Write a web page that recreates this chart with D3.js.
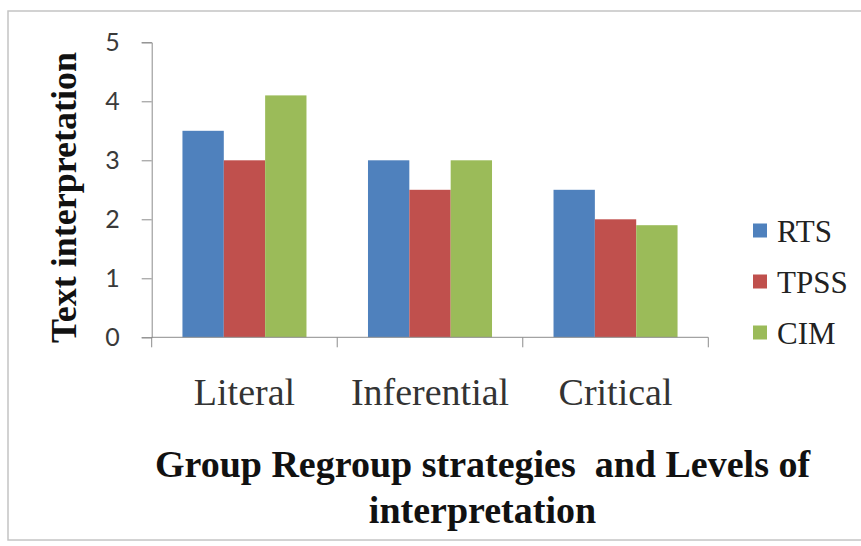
<!DOCTYPE html>
<html><head><meta charset="utf-8">
<script src="https://cdn.jsdelivr.net/npm/d3@7"></script>
<style>html,body{margin:0;padding:0;background:#fff;}svg{display:block;}
.serif{font-family:"Liberation Serif","Times New Roman",serif;}
.tick text{font-family:Lato,"Open Sans",sans-serif;}
</style>
</head><body>
<svg id="c" width="861" height="546"></svg>
<script>
const categories = ["Literal", "Inferential", "Critical"];
const seriesNames = ["RTS", "TPSS", "CIM"];
const RTS = [3.5, 3, 2.5];
const TPSS = [3, 2.5, 2];
const CIM = [4.1, 3, 1.9];
const yTicks = [0, 1, 2, 3, 4, 5];
const colors = ["#4F81BD", "#C0504D", "#9BBB59"];
const yTitle = "Text interpretation";
const xTitleLines = ["Group Regroup strategies\u00a0 and Levels of", "interpretation"];

const seriesValues = [RTS, TPSS, CIM];
const svg = d3.select("#c");

// frame
svg.append("rect").attr("x", 8).attr("y", 11).attr("width", 870).attr("height", 529)
  .attr("fill", "#fff").attr("stroke", "#c4c4c4").attr("stroke-width", 1.5);

const plot = {left: 151.7, right: 708.3, top: 42.3, bottom: 337.3};
const y = d3.scaleLinear().domain([0, 5]).range([plot.bottom, plot.top]);
const x0 = d3.scaleBand().domain(categories).range([plot.left, plot.right])
  .paddingInner(0.3315).paddingOuter(0.16575);
const x1 = d3.scaleBand().domain(seriesNames).range([0, x0.bandwidth()]).padding(0);

// y axis
const yAxis = d3.axisLeft(y).tickValues(yTicks).tickSize(10).tickPadding(22).tickFormat(d3.format("d"));
const gy = svg.append("g").attr("transform", `translate(${plot.left},0)`).call(yAxis);
gy.attr("font-family", null).attr("font-size", null);
gy.select(".domain").attr("stroke", "#8c8c8c");
gy.selectAll(".tick line").attr("stroke", "#8c8c8c");
gy.selectAll(".tick text").style("font-size", "25px").attr("fill", "#3a3a3a").attr("dy", "0.34em");

// bars
const groups = svg.append("g").selectAll("g").data(categories).join("g")
  .attr("transform", d => `translate(${x0(d)},0)`);
groups.selectAll("rect").data((c, i) => seriesNames.map((s, j) => ({s, v: seriesValues[j][i], j})))
  .join("rect")
  .attr("x", d => x1(d.s)).attr("width", x1.bandwidth())
  .attr("y", d => y(d.v)).attr("height", d => y(0) - y(d.v))
  .attr("fill", d => colors[d.j]);

// x axis line and boundary ticks
const step = x0.step();
const boundaries = d3.range(categories.length + 1).map(i => plot.left + i * step);
svg.append("line").attr("x1", plot.left).attr("x2", plot.right).attr("y1", y(0)).attr("y2", y(0))
  .attr("stroke", "#8c8c8c");
svg.append("g").selectAll("line").data(boundaries).join("line")
  .attr("x1", d => d).attr("x2", d => d).attr("y1", y(0)).attr("y2", y(0) + 10)
  .attr("stroke", "#8c8c8c");

// category labels
svg.append("g").selectAll("text").data(categories).join("text")
  .attr("class", "serif")
  .attr("x", d => x0(d) + x0.bandwidth() / 2).attr("y", 405)
  .attr("text-anchor", "middle")
  .style("font-size", "38px").attr("fill", "#333")
  .text(d => d);

// y title
svg.append("text").attr("class", "serif")
  .attr("transform", "translate(76,197.5) rotate(-90)")
  .attr("text-anchor", "middle")
  .style("font-weight", "bold").style("font-size", "36px").attr("fill", "#111")
  .text(yTitle);

// x title
svg.append("g").selectAll("text").data(xTitleLines).join("text")
  .attr("class", "serif")
  .attr("x", 482.5).attr("y", (d, i) => 477 + i * 46)
  .attr("text-anchor", "middle")
  .style("font-weight", "bold").style("font-size", "38px").attr("fill", "#111")
  .style("white-space", "pre")
  .text(d => d);

// legend
const legend = svg.append("g").selectAll("g").data(seriesNames).join("g")
  .attr("transform", (d, i) => `translate(753,${230.5 + i * 51})`);
legend.append("rect").attr("x", 0).attr("y", -7).attr("width", 14).attr("height", 14)
  .attr("fill", (d, i) => colors[i]);
legend.append("text").attr("class", "serif").attr("x", 24).attr("y", 11)
  .style("font-size", "31px").attr("fill", "#222")
  .text(d => d);
</script>
</body></html>
